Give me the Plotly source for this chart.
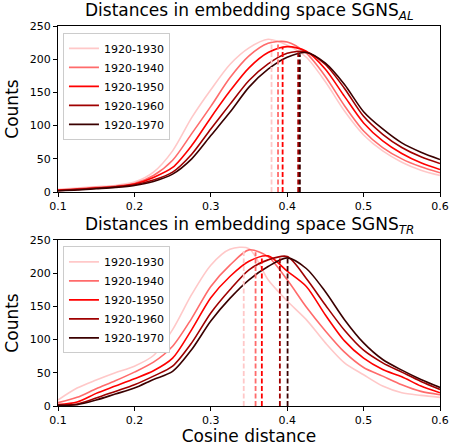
import numpy as np
import plotly.graph_objects as go

periods = ["1920-1930", "1920-1940", "1920-1950", "1920-1960", "1920-1970"]
colors = ["#ffc8c8", "#ff6b6b", "#ff0000", "#a00000", "#3a0000"]

x_grid = [0.1, 0.125, 0.15, 0.175, 0.2, 0.225, 0.25, 0.275, 0.3, 0.325, 0.35,
          0.375, 0.4, 0.425, 0.45, 0.475, 0.5, 0.525, 0.55, 0.575, 0.6]

# Top panel (SGNS_AL)
al_1930 = [4, 6, 8, 10, 15, 30, 62, 112, 154, 192, 217, 230, 221, 203, 166, 122, 86, 62, 45, 33, 25]
al_1940 = [3, 5, 7, 9, 13, 25, 48, 88, 129, 172, 205, 224, 226, 209, 174, 130, 92, 67, 50, 38, 29]
al_1950 = [3, 4, 6, 8, 12, 22, 37, 70, 112, 152, 187, 210, 219, 212, 185, 144, 104, 77, 58, 44, 34]
al_1960 = [2, 4, 6, 8, 11, 18, 30, 57, 95, 132, 168, 193, 209, 211, 192, 156, 114, 87, 67, 53, 43]
al_1970 = [2, 3, 5, 7, 10, 16, 27, 50, 85, 120, 158, 185, 203, 210, 194, 162, 121, 95, 74, 60, 49]
al_medians = [0.3795, 0.388, 0.394, 0.4144, 0.4166]

# Bottom panel (SGNS_TR)
tr_1930 = [9, 27, 39, 50, 60, 76, 115, 168, 212, 236, 237, 190, 158, 130, 95, 65, 47, 30, 20, 16, 13]
tr_1940 = [5, 13, 26, 38, 51, 66, 90, 132, 180, 212, 235, 225, 190, 149, 113, 81, 58, 45, 32, 22, 17]
tr_1950 = [2, 6, 19, 30, 41, 53, 72, 115, 163, 195, 218, 226, 203, 180, 137, 98, 72, 55, 44, 30, 20]
tr_1960 = [1, 3, 12, 22, 32, 45, 60, 95, 140, 175, 205, 220, 225, 192, 152, 114, 84, 65, 51, 37, 25]
tr_1970 = [1, 2, 9, 18, 27, 40, 52, 85, 128, 162, 190, 210, 223, 207, 172, 130, 95, 70, 54, 40, 28]
tr_medians = [0.3431, 0.3586, 0.3668, 0.3904, 0.4005]

x_ticks = [0.1, 0.2, 0.3, 0.4, 0.5, 0.6]
y_ticks = [0, 50, 100, 150, 200, 250]

panels = [
    ("y", "x", [al_1930, al_1940, al_1950, al_1960, al_1970], al_medians, "legend"),
    ("y2", "x2", [tr_1930, tr_1940, tr_1950, tr_1960, tr_1970], tr_medians, "legend2"),
]

fig = go.Figure()
for yref, xref, series, medians, leg in panels:
    for name, col, vals in zip(periods, colors, series):
        fig.add_trace(go.Scatter(x=x_grid, y=vals, mode="lines", name=name,
                                 line=dict(color=col, width=1.6, shape="spline", smoothing=0.8),
                                 xaxis=xref, yaxis=yref, legend=leg))
    for name, col, vals, m in zip(periods, colors, series, medians):
        h = float(np.interp(m, x_grid, vals))
        fig.add_trace(go.Scatter(x=[m, m], y=[0, h], mode="lines", showlegend=False,
                                 line=dict(color=col, width=1.8, dash="5px,2.5px"),
                                 xaxis=xref, yaxis=yref, hoverinfo="skip"))

axis_common = dict(range=[0.1, 0.6], tickvals=x_ticks, ticktext=[f"{v:.1f}" for v in x_ticks],
                   ticks="outside", ticklen=4, tickcolor="#000", showline=True, linecolor="#000",
                   linewidth=1, mirror=True, showgrid=False, zeroline=False,
                   tickfont=dict(size=11, color="#000"))
yaxis_common = dict(range=[0, 250], tickvals=y_ticks, ticks="outside", ticklen=4, tickcolor="#000",
                    showline=True, linecolor="#000", linewidth=1, mirror=True, showgrid=False,
                    zeroline=False, tickfont=dict(size=11, color="#000"))

legend_common = dict(bgcolor="white", bordercolor="#cccccc", borderwidth=1,
                     font=dict(family="DejaVu Sans", size=11, color="#000"),
                     itemwidth=30, xanchor="left", yanchor="top", tracegroupgap=0)

fig.update_layout(
    width=451, height=446,
    margin=dict(l=58, r=11, t=26, b=40, autoexpand=False),
    paper_bgcolor="white", plot_bgcolor="white",
    font=dict(family="DejaVu Sans", color="#000"),
    xaxis=dict(axis_common, domain=[0, 1], anchor="y"),
    yaxis=dict(yaxis_common, domain=[0.563, 1], anchor="x",
               title=dict(text="Counts", font=dict(size=17), standoff=6)),
    xaxis2=dict(axis_common, domain=[0, 1], anchor="y2",
                title=dict(text="Cosine distance", font=dict(size=17), standoff=4)),
    yaxis2=dict(yaxis_common, domain=[0, 0.437], anchor="x2",
                title=dict(text="Counts", font=dict(size=17), standoff=6)),
    legend=dict(legend_common, x=0.013, y=0.982),
    legend2=dict(legend_common, x=0.013, y=0.42),
    showlegend=True,
    annotations=[
        dict(text="Distances in embedding space SGNS<sub><i>AL</i></sub>", x=0.5, y=1.0,
             xref="paper", yref="paper", xanchor="center", yanchor="bottom", yshift=1,
             showarrow=False, font=dict(size=17, color="#000")),
        dict(text="Distances in embedding space SGNS<sub><i>TR</i></sub>", x=0.5, y=0.437,
             xref="paper", yref="paper", xanchor="center", yanchor="bottom", yshift=1,
             showarrow=False, font=dict(size=17, color="#000")),
    ],
)

fig.write_html("out.html", config={"displayModeBar": False},
               post_script="document.body.style.margin='0';document.body.style.overflow='hidden';")
